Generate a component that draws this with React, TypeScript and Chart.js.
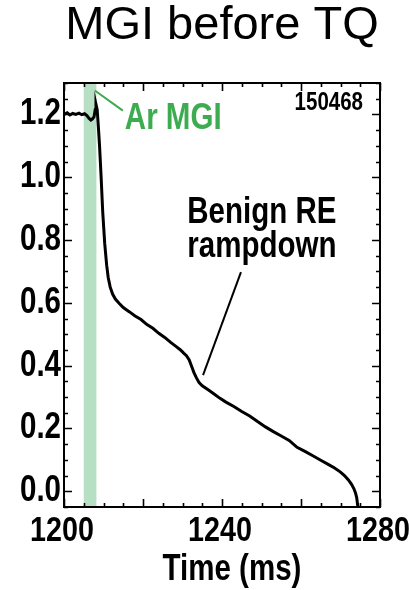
import React, { useEffect, useRef } from "react";
import { Chart, registerables } from "chart.js";

Chart.register(...registerables);

// ---- data ----
const timeMs = [
  1200.0, 1200.8, 1201.5, 1202.2, 1203.0, 1203.8, 1204.5, 1205.2, 1205.8, 1206.3,
  1206.8, 1207.2, 1207.6, 1207.9, 1208.1, 1208.4, 1208.7, 1209.0, 1209.4, 1209.8,
  1210.3, 1210.8, 1211.2, 1211.7, 1212.3, 1213.0, 1214.0, 1215.0, 1216.5, 1218.0,
  1219.5, 1221.0, 1222.5, 1224.0, 1225.5, 1227.0, 1228.5, 1229.5, 1230.3, 1231.0,
  1231.7, 1232.3, 1232.9, 1233.5, 1234.2, 1235.0, 1236.5, 1238.0, 1239.5, 1241.0,
  1243.0, 1245.0, 1247.0, 1249.0, 1251.0, 1253.0, 1255.0, 1257.0, 1259.0, 1261.0,
  1263.0, 1265.0, 1267.0, 1268.5, 1270.0, 1271.0, 1272.0, 1272.8, 1273.4, 1273.8,
  1274.1, 1274.3, 1274.5,
];
const currentMA = [
  1.200, 1.205, 1.198, 1.203, 1.200, 1.204, 1.199, 1.202, 1.196, 1.188,
  1.182, 1.186, 1.192, 1.215, 1.232, 1.215, 1.160, 1.100, 1.000, 0.890,
  0.790, 0.720, 0.680, 0.650, 0.628, 0.612, 0.598, 0.585, 0.572, 0.558,
  0.547, 0.531, 0.519, 0.503, 0.490, 0.474, 0.460, 0.450, 0.440, 0.432,
  0.418, 0.398, 0.378, 0.362, 0.346, 0.336, 0.323, 0.310, 0.296, 0.284,
  0.270, 0.254, 0.240, 0.222, 0.205, 0.190, 0.176, 0.162, 0.140, 0.127,
  0.113, 0.099, 0.085, 0.074, 0.061, 0.050, 0.036, 0.022, 0.008, -0.005,
  -0.020, -0.040, -0.060,
];
const mgiWindowMs = [1205, 1208.2];
const xTickLabels = [1200, 1240, 1280];
const yTickLabels = [0.0, 0.2, 0.4, 0.6, 0.8, 1.0, 1.2];

const TITLE = "MGI before TQ";
const X_TITLE = "Time (ms)";
const SHOT = "150468";
const MGI_LABEL = "Ar MGI";
const RE_LABEL = ["Benign RE", "rampdown"];

// "Arimo" is not installed; it only marks text that is drawn horizontally condensed
const NARROW = "Arimo, 'Liberation Sans', Arial, sans-serif";
const NARROW_SCALE = 0.82;
const GREEN = "#3dab4f";
const BAND = "#b7dfc3";

const isMajorX = (v: number) => Math.round(v - 1200) % 20 === 0;
const isMajorY = (v: number) => Math.round(v * 100) % 20 === 0;

function condenseContext(ctx: any) {
  if (ctx.__condensed) return;
  ctx.__condensed = true;
  const origFill = ctx.fillText.bind(ctx);
  const origMeasure = ctx.measureText.bind(ctx);
  ctx.fillText = function (text: string, x: number, y: number, maxWidth?: number) {
    if (String(ctx.font).includes("Arimo")) {
      ctx.save();
      ctx.translate(x, y);
      ctx.scale(NARROW_SCALE, 1);
      origFill(text, 0, 0);
      ctx.restore();
    } else if (maxWidth === undefined) {
      origFill(text, x, y);
    } else {
      origFill(text, x, y, maxWidth);
    }
  };
  ctx.measureText = function (text: string) {
    const m = origMeasure(text);
    if (String(ctx.font).includes("Arimo")) {
      return {
        width: m.width * NARROW_SCALE,
        actualBoundingBoxAscent: m.actualBoundingBoxAscent,
        actualBoundingBoxDescent: m.actualBoundingBoxDescent,
        actualBoundingBoxLeft: m.actualBoundingBoxLeft * NARROW_SCALE,
        actualBoundingBoxRight: m.actualBoundingBoxRight * NARROW_SCALE,
      };
    }
    return m;
  };
}

const bandPlugin = {
  id: "mgiBand",
  beforeDatasetsDraw(chart: any) {
    const { ctx, chartArea, scales } = chart;
    const x0 = scales.x.getPixelForValue(mgiWindowMs[0]);
    const x1 = scales.x.getPixelForValue(mgiWindowMs[1]);
    ctx.save();
    ctx.fillStyle = BAND;
    ctx.fillRect(x0, chartArea.top, x1 - x0, chartArea.bottom - chartArea.top);
    ctx.restore();
  },
};

const framePlugin = {
  id: "frame",
  afterDatasetsDraw(chart: any) {
    const { ctx, chartArea: a, scales } = chart;
    ctx.save();
    ctx.strokeStyle = "#000";
    ctx.lineWidth = 1.6;
    for (const t of scales.x.ticks) {
      const px = Math.round(scales.x.getPixelForValue(t.value)) + 0.5;
      const len = isMajorX(t.value) ? 8 : 4;
      ctx.beginPath();
      ctx.moveTo(px, a.bottom);
      ctx.lineTo(px, a.bottom - len);
      ctx.moveTo(px, a.top);
      ctx.lineTo(px, a.top + len);
      ctx.stroke();
    }
    for (const t of scales.y.ticks) {
      const py = Math.round(scales.y.getPixelForValue(t.value)) + 0.5;
      const len = isMajorY(t.value) ? 8 : 4;
      ctx.beginPath();
      ctx.moveTo(a.left, py);
      ctx.lineTo(a.left + len, py);
      ctx.moveTo(a.right, py);
      ctx.lineTo(a.right - len, py);
      ctx.stroke();
    }
    ctx.lineWidth = 2;
    ctx.strokeRect(a.left, a.top, a.right - a.left, a.bottom - a.top);
    ctx.restore();
  },
};

// annotation anchors in data units (ms, MA)
const annot = {
  mgiText: [1215.4, 1.154],
  mgiLine: [1207.8, 1.276, 1214.9, 1.212],
  shot: [1275.7, 1.214],
  reText: [1250.1, 0.855, 0.746],
  reLine: [1244.8, 0.698, 1235.2, 0.37],
};

const annotationPlugin = {
  id: "annotations",
  afterDraw(chart: any) {
    const { ctx, chartArea: a, scales } = chart;
    const X = (v: number) => scales.x.getPixelForValue(v);
    const Y = (v: number) => scales.y.getPixelForValue(v);
    ctx.save();
    // Ar MGI
    ctx.strokeStyle = GREEN;
    ctx.lineWidth = 2;
    ctx.beginPath();
    ctx.moveTo(X(annot.mgiLine[0]), Y(annot.mgiLine[1]));
    ctx.lineTo(X(annot.mgiLine[2]), Y(annot.mgiLine[3]));
    ctx.stroke();
    ctx.fillStyle = GREEN;
    ctx.font = `bold 36px ${NARROW}`;
    ctx.textAlign = "left";
    ctx.textBaseline = "alphabetic";
    ctx.fillText(MGI_LABEL, X(annot.mgiText[0]), Y(annot.mgiText[1]));
    // shot number
    ctx.fillStyle = "#000";
    ctx.font = `bold 25px ${NARROW}`;
    ctx.textAlign = "right";
    ctx.fillText(SHOT, X(annot.shot[0]), Y(annot.shot[1]));
    // Benign RE rampdown
    ctx.font = `bold 36px ${NARROW}`;
    ctx.textAlign = "center";
    ctx.fillText(RE_LABEL[0], X(annot.reText[0]), Y(annot.reText[1]));
    ctx.fillText(RE_LABEL[1], X(annot.reText[0]), Y(annot.reText[2]));
    ctx.strokeStyle = "#000";
    ctx.lineWidth = 2;
    ctx.beginPath();
    ctx.moveTo(X(annot.reLine[0]), Y(annot.reLine[1]));
    ctx.lineTo(X(annot.reLine[2]), Y(annot.reLine[3]));
    ctx.stroke();
    // x-axis title
    ctx.textBaseline = "middle";
    ctx.textAlign = "center";
    ctx.fillText(X_TITLE, (a.left + a.right) / 2 + 10, 570);
    ctx.restore();
  },
};

export default function App() {
  const ref = useRef<HTMLCanvasElement | null>(null);

  useEffect(() => {
    const canvas = ref.current;
    if (!canvas) return;
    condenseContext(canvas.getContext("2d"));
    const chart = new Chart(canvas, {
      type: "line",
      data: {
        datasets: [
          {
            label: "Ip",
            data: timeMs.map((t, i) => ({ x: t, y: currentMA[i] })),
            borderColor: "#000",
            borderWidth: 3,
            pointRadius: 0,
            tension: 0,
            fill: false,
          },
        ],
      },
      options: {
        animation: false,
        responsive: false,
        devicePixelRatio: 1,
        layout: { padding: { left: 0, right: 29, top: 0, bottom: 0 } },
        plugins: {
          legend: { display: false },
          tooltip: { enabled: false },
          title: {
            display: true,
            fullSize: false,
            text: TITLE,
            color: "#000",
            font: { family: "'Liberation Sans', Arial, sans-serif", size: 47, weight: "normal", lineHeight: 1.1 },
            padding: { top: 0, bottom: 31.3 },
          },
        },
        scales: {
          x: {
            type: "linear",
            min: 1200,
            max: 1280,
            grid: { display: false, drawTicks: false },
            border: { display: false },
            ticks: {
              stepSize: 5,
              autoSkip: false,
              maxRotation: 0,
              padding: 3,
              labelOffset: -2,
              color: "#000",
              font: { family: NARROW, size: 35, weight: "bold", lineHeight: 1.2 },
              callback: (v: any) => (xTickLabels.some((l) => Math.abs(l - v) < 1e-6) ? String(v) : ""),
            },
            afterFit: (s: any) => {
              s.height = 83;
              s.paddingLeft = 0;
              s.paddingRight = 0;
            },
          },
          y: {
            type: "linear",
            min: -0.05,
            max: 1.3,
            grid: { display: false, drawTicks: false },
            border: { display: false },
            ticks: {
              stepSize: 0.05,
              autoSkip: false,
              padding: 3,
              color: "#000",
              font: { family: NARROW, size: 36, weight: "bold", lineHeight: 1.2 },
              callback: (v: any) => {
                const hit = yTickLabels.find((l) => Math.abs(l - v) < 1e-6);
                return hit === undefined ? "" : hit.toFixed(1);
              },
            },
            afterFit: (s: any) => {
              s.width = 64;
              s.paddingTop = 0;
              s.paddingBottom = 0;
            },
          },
        },
      },
      plugins: [bandPlugin, framePlugin, annotationPlugin],
    } as any);
    return () => chart.destroy();
  }, []);

  return (
    <div style={{ position: "fixed", left: 0, top: 0, width: 409, height: 590, background: "#fff" }}>
      <canvas ref={ref} width={409} height={590} style={{ display: "block" }} />
    </div>
  );
}
